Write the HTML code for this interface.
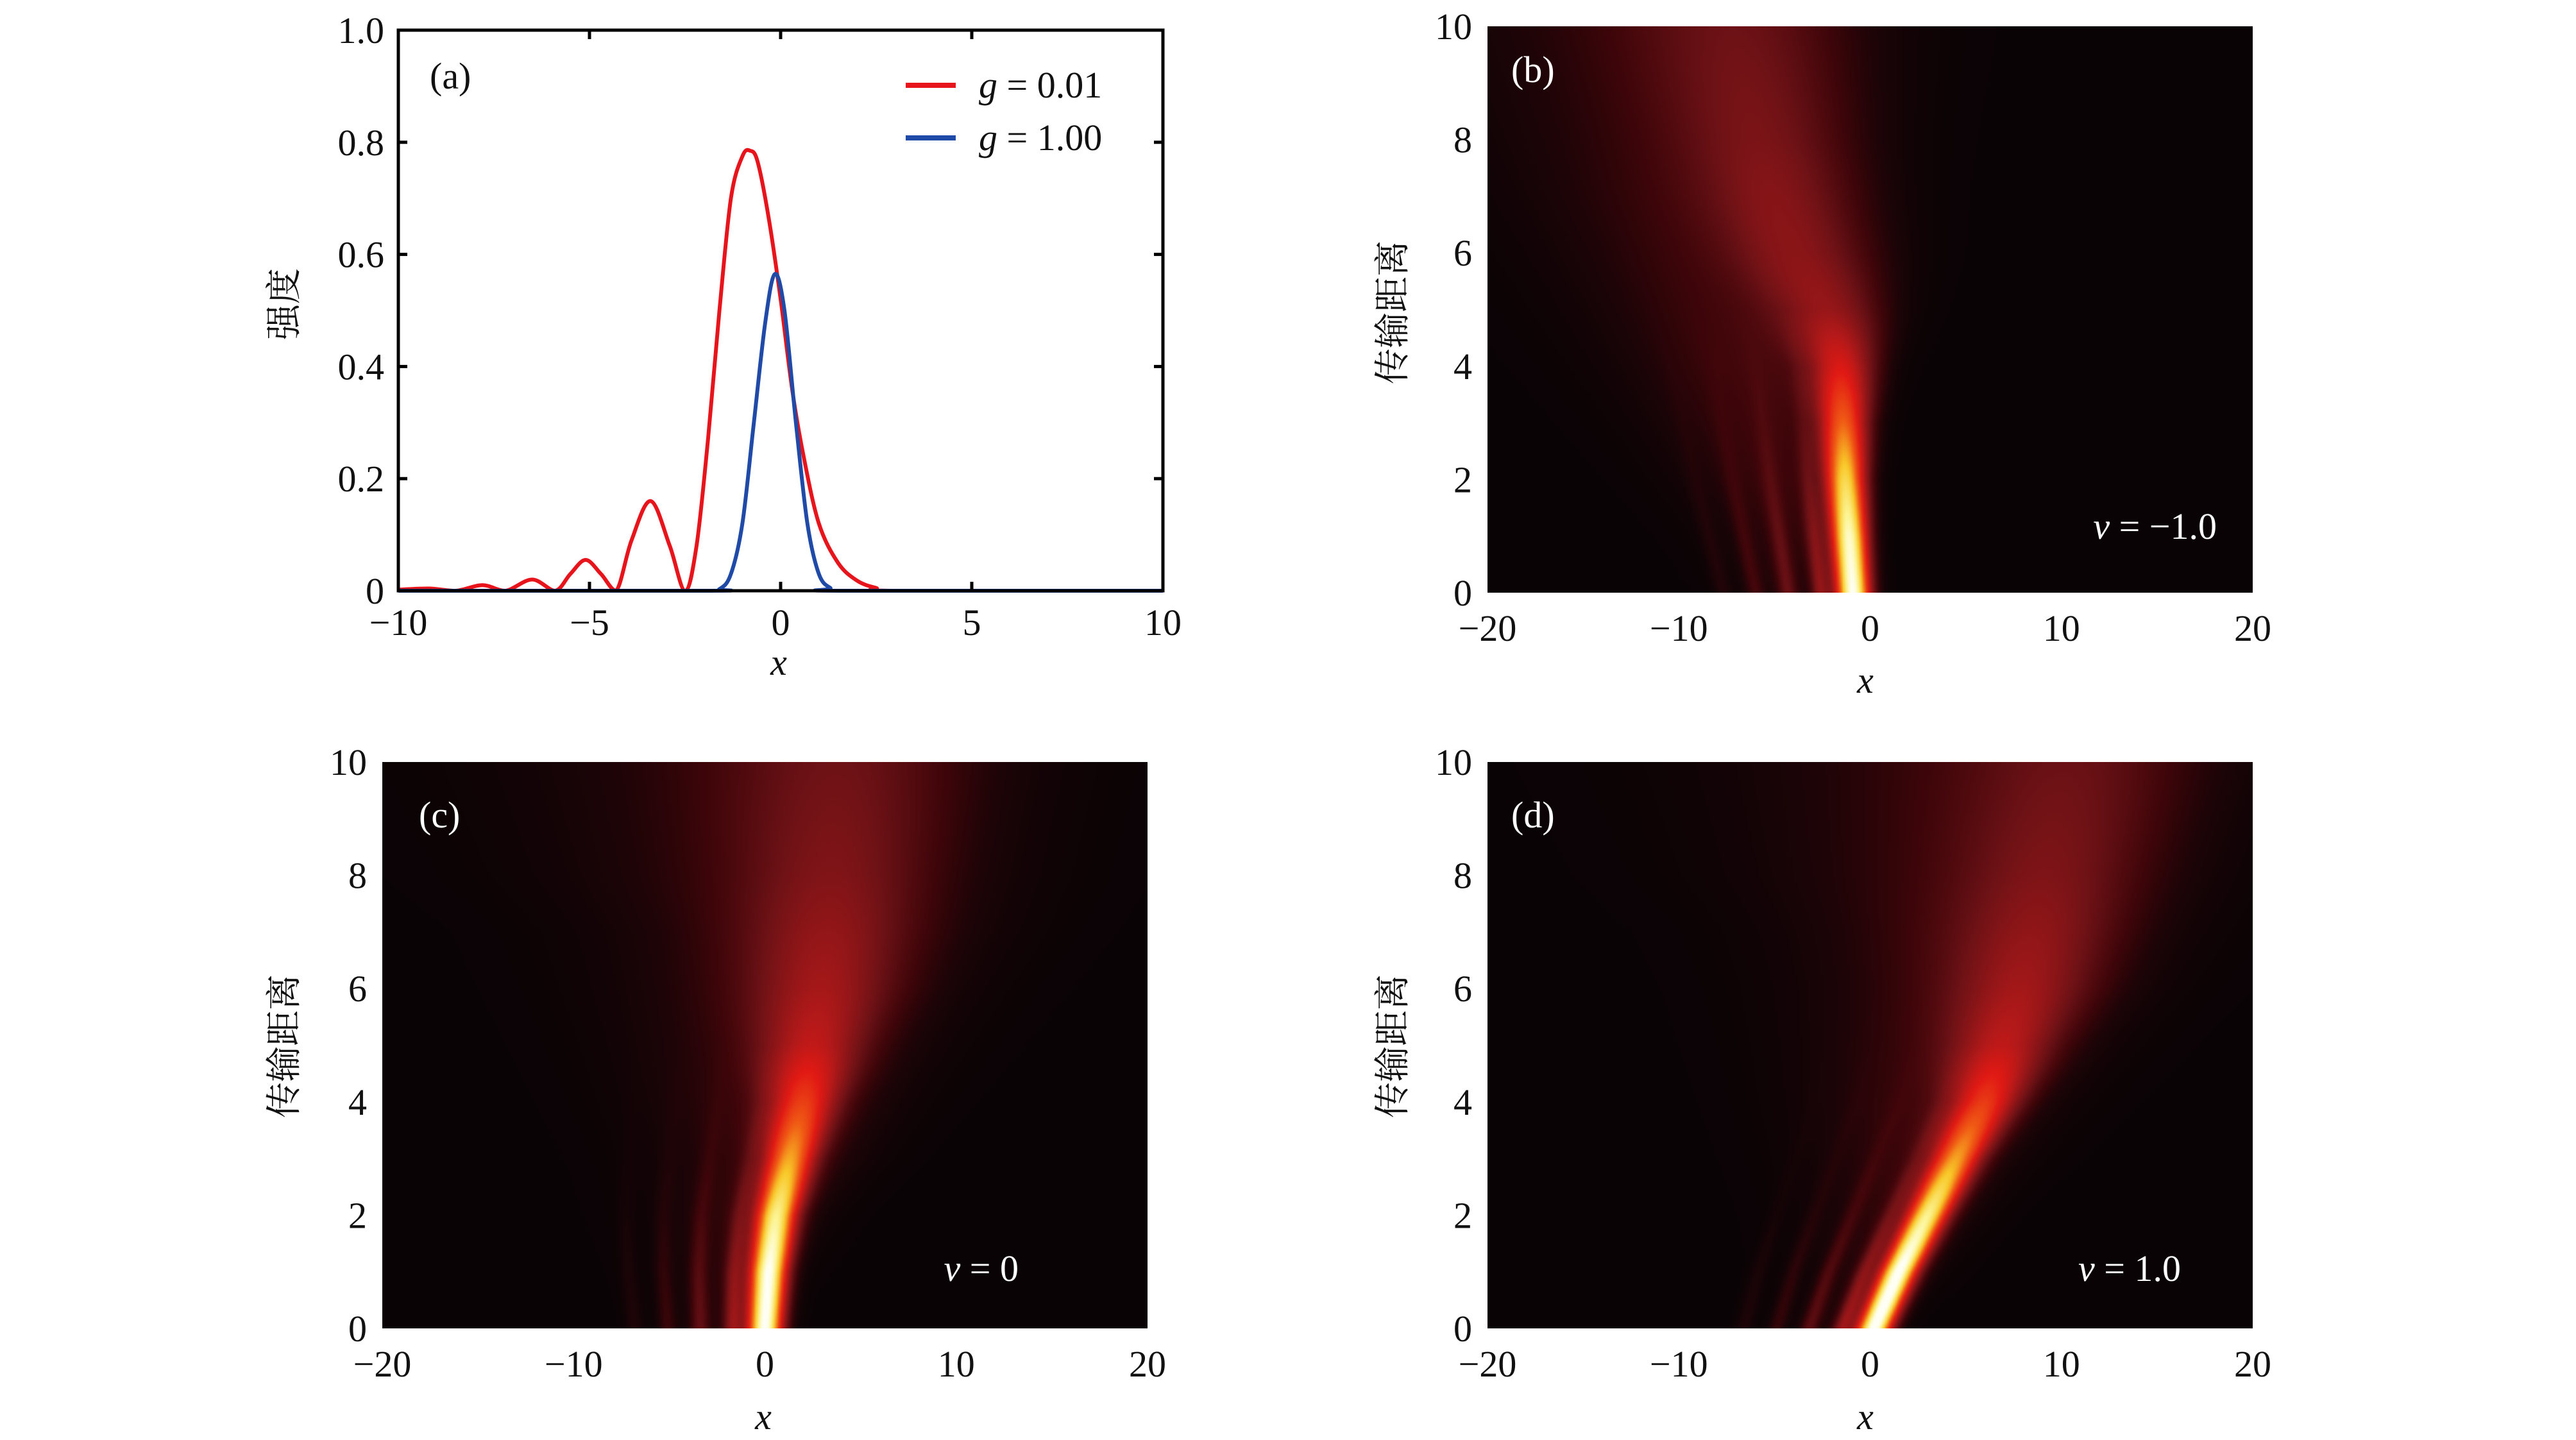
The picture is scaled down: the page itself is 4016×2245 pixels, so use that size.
<!DOCTYPE html>
<html><head><meta charset="utf-8">
<style>
html,body{margin:0;padding:0;background:#fff;}
body{width:4016px;height:2245px;position:relative;overflow:hidden;font-family:"Liberation Serif","Noto Serif CJK SC",serif;}
canvas{position:absolute;}
svg{position:absolute;left:0;top:0;}
</style></head>
<body>
<canvas id="cb" width="300" height="220" style="left:2319px;top:41px;width:1193px;height:883px;"></canvas>
<canvas id="cc" width="300" height="220" style="left:596px;top:1188px;width:1193px;height:883px;"></canvas>
<canvas id="cd" width="300" height="220" style="left:2319px;top:1188px;width:1193px;height:883px;"></canvas>
<svg id="svg" width="4016" height="2245" xmlns="http://www.w3.org/2000/svg"></svg>
<script>
// ---------- Panel (a) data ----------
const redX=[-10,-9.2,-8.5,-7.8,-7.2,-6.5,-5.9,-5.5,-5.1,-4.7,-4.3,-3.9,-3.4,-2.9,-2.5,-2.2,-1.9,-1.6,-1.3,-1.0,-0.8,-0.6,-0.3,0,0.3,0.6,1.0,1.5,2.0,2.5,3.0,10];
const redY=[0.002,0.004,0,0.01,0,0.02,0,0.03,0.055,0.03,0,0.09,0.16,0.08,0,0.08,0.27,0.5,0.7,0.775,0.785,0.765,0.66,0.52,0.36,0.24,0.12,0.05,0.018,0.005,0,0];
const blueX=[-10,-2,-1.6,-1.3,-1.0,-0.7,-0.4,-0.15,0.1,0.4,0.7,1.0,1.3,1.6,10];
const blueY=[0,0,0.003,0.03,0.12,0.3,0.48,0.565,0.5,0.3,0.12,0.03,0.005,0,0];
const aXTicks=[-10,-5,0,5,10];
const aYTicks=[0,0.2,0.4,0.6,0.8,1.0];
const aYLabels=["0","0.2","0.4","0.6","0.8","1.0"];
// ---------- Heatmap data (b,c,d) ----------
const hZ=[0,1,2,3,4,5,6,7,8,10];
const bRidgeX=[-0.9,-1.1,-1.3,-1.4,-1.5,-2,-3,-4,-5,-6.5];
const bRidgeAmp=[1.0,0.95,0.8,0.6,0.42,0.26,0.2,0.16,0.13,0.1];
const bRidgeW=[1.5,1.6,1.8,2.2,3,4.5,6,7,8,10];
const bGlowX=[-4,-4,-4.5,-5,-5.5,-6,-6.5,-7,-7.5,-8];
const bGlowAmp=[0.06,0.08,0.1,0.11,0.12,0.12,0.12,0.12,0.11,0.1];
const bGlowWL=[3,4,5,6,7,8,9,10,11,13];
const bGlowWR=[2,2,2.2,2.5,3,3.5,4,5,6,7];
const cRidgeX=[0,0.2,0.6,1.3,2,2.5,3,3.3,3.6,4];
const cRidgeAmp=[1.0,0.95,0.8,0.6,0.42,0.26,0.2,0.16,0.13,0.1];
const cRidgeW=[1.5,1.6,1.8,2.2,3,4.5,6,7,8,10];
const cGlowX=[-2,-1,0,1,1.5,2,2.5,3,3,3];
const cGlowAmp=[0.06,0.08,0.1,0.11,0.12,0.12,0.12,0.12,0.11,0.1];
const cGlowWL=[3,4,5,6,7,8,9,10,12,14];
const cGlowWR=[2,2.5,3,4,5,6,7,8,9,10];
const dRidgeX=[0.2,1.5,3,4.5,6,7,8,8.8,9.5,11];
const dRidgeAmp=[1.0,0.95,0.8,0.6,0.42,0.26,0.2,0.16,0.13,0.1];
const dRidgeW=[1.5,1.6,1.8,2.2,3,4.5,6,7,8,10];
const dGlowX=[-1,1,2.5,3.5,4.5,5.5,6.5,7,7.5,8];
const dGlowAmp=[0.06,0.08,0.1,0.11,0.12,0.12,0.12,0.12,0.11,0.1];
const dGlowWL=[3,4,5,6,7,8,9,10,12,14];
const dGlowWR=[2,2.5,3,4,5,6,7,8,9,10];
const lobeAmp=[0.22,0.17,0.1,0.05,0.02,0,0,0,0,0];
const hXTicks=[-20,-10,0,10,20];
const hYTicks=[0,2,4,6,8,10];

const NS="http://www.w3.org/2000/svg";
const svg=document.getElementById('svg');
function mk(tag,attrs,parent){const e=document.createElementNS(NS,tag);for(const k in attrs)e.setAttribute(k,attrs[k]);(parent||svg).appendChild(e);return e;}
function txt(s,x,y,size,anchor,fill,parent){const t=mk('text',{x:x,y:y,'font-size':size,'text-anchor':anchor||'middle',fill:fill||'#111','font-family':'"Liberation Serif","Noto Serif CJK SC",serif'},parent);t.textContent=s;return t;}
const MINUS='\u2212';
function fmt(v){return (v<0?MINUS:'')+Math.abs(v);}

// ---------- Panel (a) ----------
const aL=621,aR=1813,aT=47,aB=921;
const ax=v=>aL+(v+10)/20*(aR-aL);
const ay=v=>aB-v*(aB-aT);
const gA=mk('g',{});


function smoothPath(xs,ys){const P=xs.map((x,i)=>[ax(x),ay(ys[i])]);let d='M'+P[0][0]+' '+P[0][1];for(let i=0;i<P.length-1;i++){const p0=P[Math.max(0,i-1)],p1=P[i],p2=P[i+1],p3=P[Math.min(P.length-1,i+2)];const c1=[p1[0]+(p2[0]-p0[0])/6,p1[1]+(p2[1]-p0[1])/6];const c2=[p2[0]-(p3[0]-p1[0])/6,p2[1]-(p3[1]-p1[1])/6];d+=`C${c1[0].toFixed(1)} ${Math.min(aB,c1[1]).toFixed(1)} ${c2[0].toFixed(1)} ${Math.min(aB,c2[1]).toFixed(1)} ${p2[0].toFixed(1)} ${p2[1].toFixed(1)}`;}return d;}
const redP=mk('path',{d:smoothPath(redX,redY),fill:'none',stroke:'#e8141c','stroke-width':6,'stroke-linejoin':'round'},gA);


const blueP=mk('path',{d:smoothPath(blueX,blueY),fill:'none',stroke:'#1f4aa8','stroke-width':6,'stroke-linejoin':'round'},gA);


const frame=mk('rect',{x:aL,y:aT,width:aR-aL,height:aB-aT,fill:'none',stroke:'#000','stroke-width':5},gA);


aXTicks.forEach(v=>{const x=ax(v);mk('line',{x1:x,y1:aB,x2:x,y2:aB-14,stroke:'#000','stroke-width':5},gA);mk('line',{x1:x,y1:aT,x2:x,y2:aT+14,stroke:'#000','stroke-width':5},gA);
 const t=txt(fmt(v),x,aB+69,58,'middle','#111',gA);});
aYTicks.forEach((v,i)=>{const y=ay(v);mk('line',{x1:aL,y1:y,x2:aL+14,y2:y,stroke:'#000','stroke-width':5},gA);mk('line',{x1:aR,y1:y,x2:aR-14,y2:y,stroke:'#000','stroke-width':5},gA);
 const t=txt(aYLabels[i],aL-22,y+20,58,'end','#111',gA);});
</script>
<svg width="4016" height="2245" xmlns="http://www.w3.org/2000/svg" style="position:absolute;left:0;top:0;" font-family="Liberation Serif, Noto Serif CJK SC, serif">
  <text x="670" y="138" font-size="58" fill="#111">(a)</text>
  <g>
    <line x1="1412" y1="133" x2="1490" y2="133" stroke="#e8141c" stroke-width="8"/>
    <text x="1526" y="152" font-size="58" fill="#111"><tspan font-style="italic">g</tspan> = 0.01</text>
    <line x1="1412" y1="215" x2="1490" y2="215" stroke="#1f4aa8" stroke-width="8"/>
    <text x="1526" y="234" font-size="58" fill="#111"><tspan font-style="italic">g</tspan> = 1.00</text>
  </g>
  <text transform="translate(462,474) rotate(-90)" text-anchor="middle" font-size="56" fill="#111" font-family="Noto Serif CJK SC, serif">强度</text>
  <text x="1214" y="1052" text-anchor="middle" font-size="58" font-style="italic" fill="#111">x</text>

  <text x="2356" y="128" font-size="58" fill="#fff">(b)</text>
  <text x="3456" y="840" text-anchor="end" font-size="58" fill="#fff"><tspan font-style="italic">v</tspan> = −1.0</text>
  <text transform="translate(2190,487) rotate(-90)" text-anchor="middle" font-size="56" fill="#111" font-family="Noto Serif CJK SC, serif">传输距离</text>
  <text x="2908" y="1080" text-anchor="middle" font-size="58" font-style="italic" fill="#111">x</text>

  <text x="653" y="1290" font-size="58" fill="#fff">(c)</text>
  <text x="1588" y="1997" text-anchor="end" font-size="58" fill="#fff"><tspan font-style="italic">v</tspan> = 0</text>
  <text transform="translate(462,1631) rotate(-90)" text-anchor="middle" font-size="56" fill="#111" font-family="Noto Serif CJK SC, serif">传输距离</text>
  <text x="1190" y="2228" text-anchor="middle" font-size="58" font-style="italic" fill="#111">x</text>

  <text x="2356" y="1290" font-size="58" fill="#fff">(d)</text>
  <text x="3400" y="1997" text-anchor="end" font-size="58" fill="#fff"><tspan font-style="italic">v</tspan> = 1.0</text>
  <text transform="translate(2190,1631) rotate(-90)" text-anchor="middle" font-size="56" fill="#111" font-family="Noto Serif CJK SC, serif">传输距离</text>
  <text x="2908" y="2228" text-anchor="middle" font-size="58" font-style="italic" fill="#111">x</text>
</svg>
<script>
// ---------- Heatmaps ----------
const stops=[[0,10,3,5],[0.05,30,4,7],[0.1,60,5,9],[0.2,110,18,22],[0.35,180,25,25],[0.45,225,25,20],[0.6,240,90,20],[0.75,248,200,40],[0.9,252,245,150],[1,255,255,245]];
function cmap(t){t=Math.max(0,Math.min(1,t));for(let i=0;i<stops.length-1;i++){const a=stops[i],b=stops[i+1];if(t<=b[0]){const f=(t-a[0])/(b[0]-a[0]);return[a[1]+f*(b[1]-a[1]),a[2]+f*(b[2]-a[2]),a[3]+f*(b[3]-a[3])];}}return[255,255,245];}
function interp(arr,z){for(let i=0;i<hZ.length-1;i++){if(z<=hZ[i+1]){const f=(z-hZ[i])/(hZ[i+1]-hZ[i]);return arr[i]+f*(arr[i+1]-arr[i]);}}return arr[arr.length-1];}
function drawHeat(id,RX,RA,RW,GX,GA,GL,GR){
 const c=document.getElementById(id),ctx=c.getContext('2d');const W=c.width,H=c.height;const img=ctx.createImageData(W,H);
 for(let j=0;j<H;j++){const z=10*(1-(j+0.5)/H);
  const rx=interp(RX,z),ra=interp(RA,z),rw=interp(RW,z),gx=interp(GX,z),ga=interp(GA,z),gl=interp(GL,z),gr=interp(GR,z),la=interp(lobeAmp,z);
  for(let i=0;i<W;i++){const x=-20+40*(i+0.5)/W;
   let v=ra*Math.exp(-Math.pow((x-rx)/(rw*0.6),2));
   const dg=x-gx;v+=ga*Math.exp(-Math.pow(dg/(dg<0?gl:gr),2)*1.2);
   for(let k=1;k<=4;k++){v+=la*Math.pow(0.6,k-1)*Math.exp(-Math.pow((x-(rx-1.7*k*(1+0.08*z)))/0.45,2));}
   const col=cmap(v);
   const p=(j*W+i)*4;img.data[p]=col[0];img.data[p+1]=col[1];img.data[p+2]=col[2];img.data[p+3]=255;}}
 ctx.putImageData(img,0,0);}
drawHeat('cb',bRidgeX,bRidgeAmp,bRidgeW,bGlowX,bGlowAmp,bGlowWL,bGlowWR);
drawHeat('cc',cRidgeX,cRidgeAmp,cRidgeW,cGlowX,cGlowAmp,cGlowWL,cGlowWR);
drawHeat('cd',dRidgeX,dRidgeAmp,dRidgeW,dGlowX,dGlowAmp,dGlowWL,dGlowWR);
const svg2=document.getElementById('svg');
function heatAxes(L,R,T,B,name){
 const g=mk('g',{},svg2);
 
 
 hXTicks.forEach(v=>{const x=L+(v+20)/40*(R-L);const t=txt(fmt(v),x,B+75,58,'middle','#111',g);
  
  });
 hYTicks.forEach(v=>{const y=B-v/10*(B-T);const t=txt(String(v),L-24,y+20,58,'end','#111',g);
  
  });
}
heatAxes(2319,3512,41,924,'axes-b');
heatAxes(596,1789,1188,2071,'axes-c');
heatAxes(2319,3512,1188,2071,'axes-d');
</script>
</body></html>
